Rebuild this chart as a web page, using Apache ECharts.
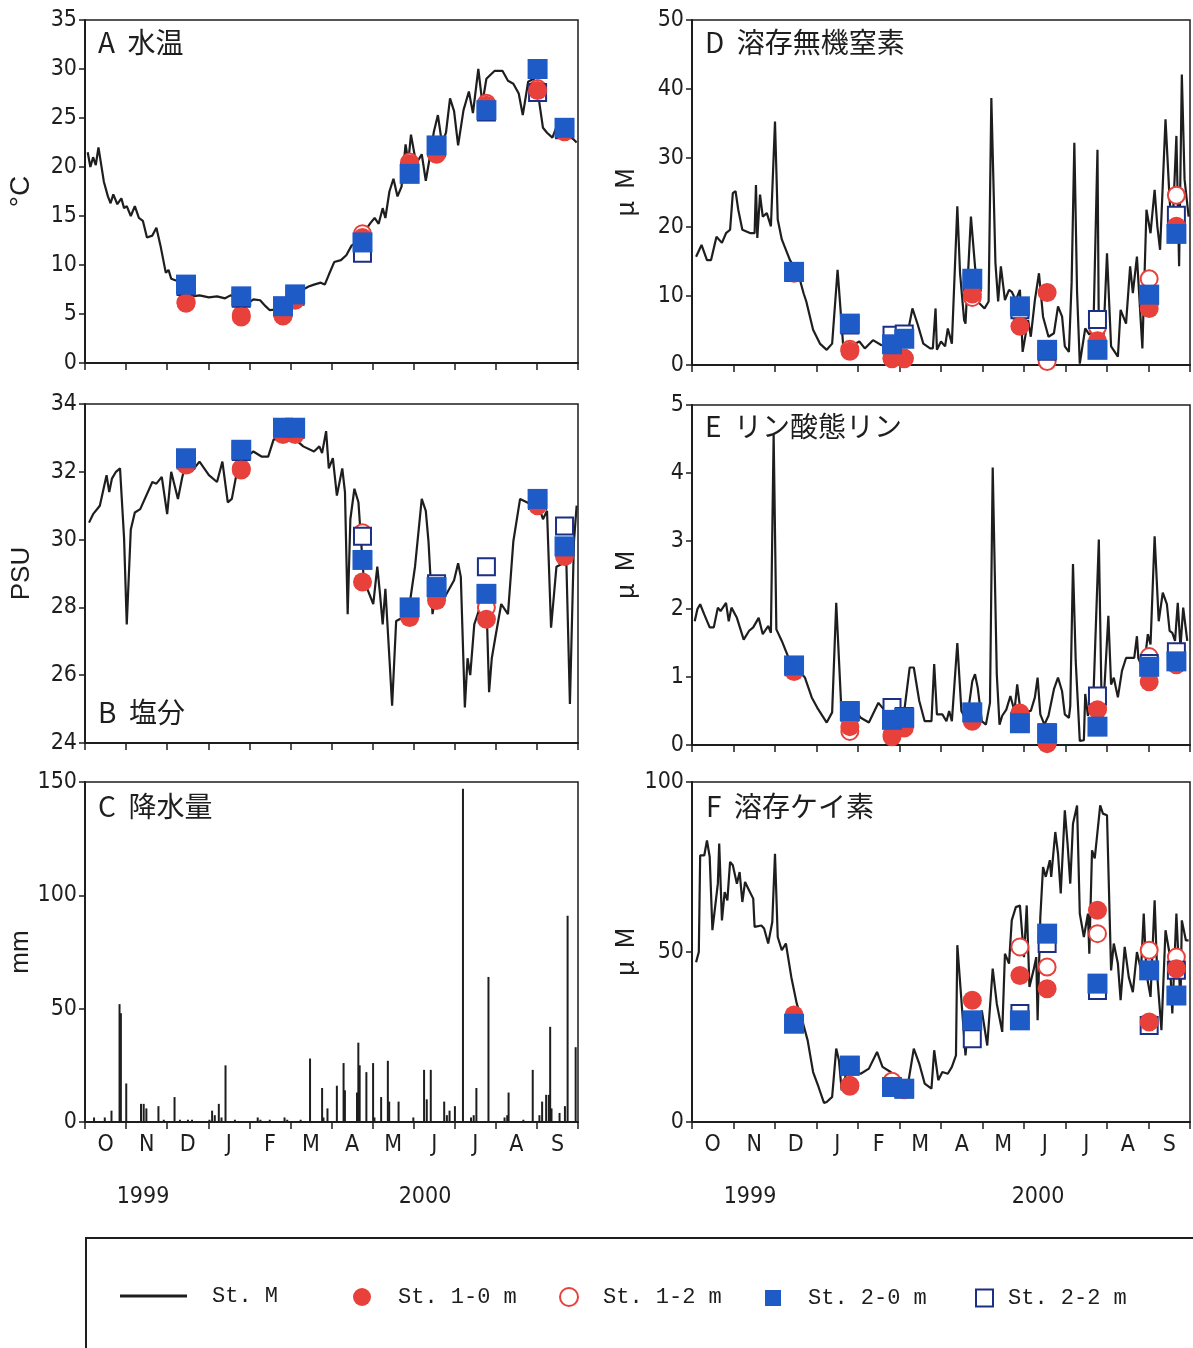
<!DOCTYPE html>
<html><head><meta charset="utf-8">
<script src="https://cdn.jsdelivr.net/npm/echarts/dist/echarts.min.js"></script>
<style>html,body{margin:0;padding:0;background:#fff}#c{width:1193px;height:1348px}</style>
</head><body><div id="c"></div>
<script>
// ---------- DATA ----------
// day offsets from 1999-10-01
const months = ['O','N','D','J','F','M','A','M','J','J','A','S'];
const years = ['1999','2000'];
const sampleDays = [75,116,147,156,206,241,261,298,336,356]; // 1999-12-15 ... 2000-09-21

// A water temperature, St. M
const tempLine = [[2,21.5],[4,20],[6,21],[8,20.2],[10,22],[14,18.5],[17,17],[19,16.3],[21,17.2],[24,16.2],[27,16.8],[29,15.8],[31,16],[34,15],[37,16],[40,14.8],[43,14.5],[46,12.8],[50,13],[53,13.8],[56,12],[60,9.2],[62,9.5],[64,8.6],[70,8.3],[75,7.8],[80,6.8],[85,6.9],[92,6.7],[98,6.8],[104,6.6],[108,6.9],[112,6.8],[115,6.3],[120,6.0],[125,6.5],[130,6.4],[134,5.8],[137,5.4],[145,5.5],[150,6.0],[155,7.2],[162,7.5],[166,7.8],[170,8],[175,8.2],[178,8],[181,9],[185,10.3],[190,10.5],[194,11],[198,12],[202,12.3],[204,12],[207,13.3],[212,14.3],[215,14.8],[218,14.2],[221,15.8],[223,14.8],[226,17.5],[229,18.8],[232,17],[235,18],[238,22.3],[240,20.5],[242,23.3],[245,21],[247,20.6],[250,21.3],[253,18.6],[256,21],[259,23.6],[262,25.3],[265,22.4],[268,23.5],[271,27],[274,25.7],[277,22.2],[281,25.8],[285,27.7],[288,25.5],[292,30],[295,26.5],[298,29],[304,29.8],[310,29.8],[314,28.8],[318,28.5],[322,27.5],[325,25.3],[329,28.7],[333,29],[336,27.8],[340,24],[343,23.5],[347,23],[352,24.8],[356,24],[360,23.2],[365,22.5]];
const temp10 = [6.1,4.7,4.8,6.4,12.8,20.3,21.3,26.3,27.8,23.6];
const temp12 = [6.2,4.9,5.0,6.5,13.2,20.5,21.5,26.5,28.0,23.8];
const temp20 = [8.0,6.8,5.8,7.0,12.3,19.3,22.2,25.8,30.0,24.0];
const temp22 = [7.8,6.6,5.6,6.8,11.2,19.5,22.0,25.6,27.6,23.8];

// B salinity
const salLine = [[3,30.5],[6,30.75],[11,31.0],[16,31.9],[18,31.4],[20,31.8],[23,32.0],[26,32.1],[29,30.05],[31,27.5],[34,30.3],[37,30.8],[41,30.9],[50,31.7],[53,31.65],[57,31.85],[61,30.75],[64,32.0],[69,31.2],[72,31.8],[75,32.3],[79,32.0],[85,32.3],[92,31.9],[98,31.7],[102,32.3],[106,31.1],[109,31.2],[114,32.25],[119,32.4],[125,32.6],[131,32.45],[136,32.45],[140,32.95],[148,33.0],[155,33.0],[162,32.75],[170,32.6],[174,32.75],[176,32.55],[179,33.2],[181,32.1],[184,32.4],[187,31.3],[191,32.1],[193,31.4],[195,27.8],[197,30.6],[200,31.5],[203,31.1],[207,28.8],[210,28.5],[214,28.1],[217,29.2],[219,28.4],[221,27.5],[223,28.55],[226,26.5],[228,25.1],[231,27.6],[236,27.7],[241,28.1],[245,29.2],[250,31.2],[253,30.85],[255,29.95],[258,27.8],[261,28.5],[267,28.3],[274,28.8],[277,29.3],[279,28.9],[282,25.05],[284,26.5],[286,26.0],[289,27.5],[294,28.1],[298,28.2],[300,25.5],[302,26.5],[305,27.2],[309,28.1],[314,27.8],[318,29.95],[323,31.2],[328,31.1],[333,31.0],[336,31.1],[340,30.6],[343,30.85],[346,27.4],[350,29.2],[355,29.3],[357,29.9],[360,25.15],[363,29.95],[365,31.0]];
const sal10 = [32.2,32.05,33.1,33.1,28.75,27.7,28.2,27.65,31.0,29.5];
const sal12 = [32.25,32.1,33.15,33.15,30.2,27.75,28.3,28.0,31.05,29.6];
const sal20 = [32.4,32.65,33.3,33.3,29.4,28.0,28.6,28.4,31.2,29.8];
const sal22 = [32.35,32.6,33.25,33.25,30.1,28.0,28.7,29.2,31.15,30.4];

// C precipitation (mm/day)
const rain = [[6,2],[14,2],[19,5],[25,52],[26,48],[30,17],[41,8],[43,8],[45,6],[54,7],[58,1],[66,11],[70,1],[76,1],[79,1],[92,1],[94,5],[96,3],[99,8],[101,2],[104,25],[111,1],[128,2],[130,1],[137,1],[148,2],[150,1],[160,1],[167,28],[176,15],[177,2],[180,6],[187,16],[192,26],[193,14],[202,13],[203,35],[204,25],[209,22],[214,26],[215,2],[220,11],[225,27],[226,9],[233,9],[244,2],[252,23],[254,10],[257,23],[267,9],[269,3],[271,5],[275,7],[281,147],[287,2],[289,3],[291,15],[300,64],[312,2],[314,3],[315,13],[326,1],[333,23],[338,3],[340,9],[343,12],[345,12],[346,42],[347,6],[353,4],[357,7],[359,91],[365,33]];

// D DIN
const dinLine = [[3,15.7],[7,17.4],[11,15.2],[14,15.2],[18,18.6],[22,17.7],[25,19.1],[28,19.6],[30,24.9],[32,25.2],[34,22.5],[37,19.6],[43,19.1],[46,19.1],[47,26.1],[48,18.4],[50,24.7],[52,21.5],[55,22.0],[58,20.1],[61,35.3],[63,21.1],[66,18.2],[72,15.2],[78,13.3],[82,10.4],[84,9.2],[89,5.1],[94,3.1],[99,2.2],[103,3.1],[107,13.8],[111,3.1],[116,2.7],[123,3.4],[127,2.4],[133,3.6],[139,2.9],[144,2.7],[152,2.2],[158,4.1],[162,8.2],[166,5.8],[170,3.1],[175,2.4],[177,2.4],[179,8.2],[180,2.2],[183,3.4],[186,2.7],[188,5.3],[191,3.1],[195,23.0],[197,13.3],[200,6.5],[201,6.0],[205,21.5],[208,14.3],[211,9.0],[215,8.2],[218,9.2],[220,38.7],[223,14.8],[225,9.2],[227,14.3],[230,9.4],[233,10.9],[235,10.6],[238,9.4],[241,10.9],[243,1.9],[247,6.5],[249,4.1],[252,9.4],[255,13.3],[258,7.0],[262,4.1],[266,4.6],[269,8.5],[272,7.0],[274,2.7],[277,1.9],[279,11.9],[281,32.2],[283,10.6],[285,0.2],[289,5.3],[292,4.4],[295,5.1],[298,31.2],[299,4.6],[302,2.2],[305,16.2],[308,2.7],[313,1.2],[315,8.0],[319,6.0],[322,14.3],[324,10.4],[327,15.7],[331,2.4],[334,22.5],[337,19.1],[340,25.4],[342,20.1],[344,16.7],[348,35.6],[351,24.0],[353,19.1],[356,33.2],[358,14.3],[360,42.1],[362,26.9],[365,21.5]];
const din10 = [13.3,2.0,0.9,0.9,10.3,5.6,10.5,3.5,8.2,20.1];
const din12 = [13.4,2.3,1.0,1.0,9.8,7.5,0.5,5.5,12.5,24.6];
const din20 = [13.5,6.0,3.0,3.8,12.5,8.5,2.2,2.2,10.2,19.0];
const din22 = [13.4,5.8,4.3,4.5,12.0,8.0,2.0,6.6,10.0,21.7];

// E phosphate
const poLine = [[2,1.82],[4,2.0],[6,2.07],[9,1.92],[13,1.73],[16,1.73],[19,2.02],[21,1.97],[25,2.09],[27,1.82],[29,2.02],[33,1.87],[38,1.55],[42,1.68],[45,1.73],[49,1.87],[52,1.63],[56,1.75],[58,1.65],[60,4.57],[62,1.70],[66,1.53],[71,1.28],[77,1.14],[83,0.99],[88,0.70],[92,0.55],[99,0.33],[103,0.48],[106,2.09],[110,0.43],[116,0.33],[120,0.5],[124,0.4],[130,0.33],[137,0.62],[144,0.45],[152,0.35],[156,0.5],[160,1.14],[163,1.14],[167,0.65],[171,0.35],[176,0.35],[178,1.19],[180,0.45],[184,0.45],[187,0.35],[189,0.5],[191,0.35],[195,1.50],[198,0.5],[202,0.35],[206,0.94],[208,1.04],[210,0.84],[213,0.35],[216,0.30],[219,0.62],[221,4.08],[224,1.04],[226,0.30],[228,0.43],[231,0.52],[234,0.72],[237,0.5],[239,0.89],[242,0.40],[245,0.5],[249,0.5],[252,0.70],[254,0.99],[256,0.45],[259,0.30],[262,0.43],[266,0.82],[269,0.99],[272,0.79],[274,0.45],[277,0.40],[278,0.57],[280,2.66],[282,1.24],[285,0.06],[288,0.07],[289,0.75],[291,0.43],[295,0.70],[299,3.02],[301,0.65],[303,0.8],[306,1.90],[308,0.89],[310,0.99],[313,0.70],[316,1.09],[319,1.28],[323,1.28],[325,1.28],[327,1.6],[328,1.28],[332,1.09],[335,1.63],[337,1.48],[340,3.07],[343,1.82],[346,2.24],[349,2.07],[351,1.68],[353,1.65],[355,1.53],[357,2.09],[359,1.43],[361,2.02],[364,1.53]];
const po10 = [1.08,0.27,0.12,0.25,0.35,0.45,0.02,0.52,0.93,1.18];
const po12 = [1.1,0.2,0.15,0.28,0.37,0.47,0.03,0.55,1.3,1.35];
const po20 = [1.17,0.5,0.37,0.4,0.48,0.32,0.17,0.27,1.15,1.23];
const po22 = [1.15,0.48,0.55,0.42,0.47,0.35,0.18,0.72,1.2,1.37];

// F silicate
const siLine = [[3,47],[5,50],[6,78.4],[9,78.4],[11,82.8],[13,78],[15,56.4],[19,70.1],[20,81.9],[22,59.3],[24,67.6],[26,65.2],[27,71],[28,76.5],[30,75.5],[33,70.1],[35,73.5],[37,64.7],[39,70.6],[42,68.1],[45,65.7],[46,57.4],[51,57.8],[53,56.9],[56,52.5],[59,58.8],[61,78.9],[63,54.4],[66,50.5],[69,52.5],[73,42.6],[77,34.8],[81,29.9],[85,24],[89,14.7],[93,10.3],[97,5.6],[99,5.9],[103,7.4],[106,21.6],[108,18.1],[110,9.3],[114,15.2],[119,14.7],[124,14.2],[130,15.7],[136,20.6],[140,16.2],[146,14.7],[152,11.8],[158,9.3],[163,21.6],[167,17.2],[171,11.3],[176,9.8],[178,21.1],[181,12.3],[184,14.7],[188,14.2],[191,16.2],[194,19.6],[195,52.0],[198,35.8],[201,19.6],[203,28.9],[206,31.9],[210,27.9],[213,32.8],[217,22.5],[221,45.1],[224,34.8],[228,26.5],[230,49.5],[233,46.6],[235,59.3],[238,63.2],[241,63.7],[244,48.5],[246,63.7],[248,39.7],[251,44.6],[253,48.5],[254,29.9],[256,60.3],[258,75],[260,72.1],[263,77],[264,72.1],[267,85.3],[269,78.9],[271,67.2],[274,91.7],[276,81.9],[278,70.1],[280,87.7],[283,93.1],[285,61.3],[288,54.4],[291,61.3],[292,49.5],[294,79.9],[296,77.5],[300,93.1],[302,90.7],[305,90.2],[308,44.6],[310,52.5],[313,46.6],[315,35.8],[318,51.5],[321,42.6],[324,38.2],[327,50],[330,44.6],[332,61.3],[334,43.6],[337,36.8],[340,65.2],[342,42.6],[345,27],[348,56.4],[351,49.5],[353,31.9],[356,61.3],[359,34.8],[360,59.3],[363,53.4],[365,53.4]];
const si10 = [31.5,10.5,10.5,9.5,35.8,43.1,39.2,62.3,29.4,45.1];
const si12 = [31.0,10.8,12.0,9.6,28.0,51.5,45.6,55.4,50.5,48.5];
const si20 = [28.9,16.6,10.3,9.8,29.9,29.9,55.4,40.7,44.6,37.2];
const si22 = [29.0,16.4,10.4,9.7,24.5,31.9,52.5,38.7,28.4,44.6];

// ---------- BUILD ----------
const START = new Date(1999, 9, 1).getTime();
const END = new Date(2000, 9, 1).getTime();
const DAY = 86400000;
const toT = d => START + d * DAY;
const lineData = arr => arr.map(p => [toT(p[0]), p[1]]);
const sampleData = vals => vals.map((v, i) => [toT(sampleDays[i]), v]);

const NARROW = '"Liberation Sans Narrow","DejaVu Sans Condensed","Roboto Condensed","Liberation Sans",sans-serif';
const CJK = '"Liberation Sans Narrow","Noto Sans CJK JP",sans-serif';
const INK = '#1e1e1e';
const RED = '#e8413c';
const BLUE = '#1f5bc6';
const NAVY = '#1c2f86';

const panels = [
  {grid:{left:85, top:20, width:493, height:343}, min:0, max:35, interval:5, name:'°C', gap:50, title:'A  水温', tl:98, tt:28, xlab:false, line:tempLine, m:[temp10,temp12,temp20,temp22]},
  {grid:{left:85, top:404, width:493, height:339}, min:24, max:34, interval:2, name:'PSU', gap:50, title:'B  塩分', tl:98, tt:698, xlab:false, line:salLine, m:[sal10,sal12,sal20,sal22]},
  {grid:{left:85, top:782, width:493, height:340}, min:0, max:150, interval:50, name:'mm', gap:50, title:'C  降水量', tl:98, tt:792, xlab:true, bars:rain},
  {grid:{left:692, top:20, width:498, height:345}, min:0, max:50, interval:10, name:'μ  M', gap:55, title:'D  溶存無機窒素', tl:705, tt:28, xlab:false, line:dinLine, m:[din10,din12,din20,din22]},
  {grid:{left:692, top:405, width:498, height:340}, min:0, max:5, interval:1, name:'μ  M', gap:55, title:'E  リン酸態リン', tl:705, tt:412, xlab:false, line:poLine, m:[po10,po12,po20,po22]},
  {grid:{left:692, top:782, width:498, height:340}, min:0, max:100, interval:50, name:'μ  M', gap:55, title:'F  溶存ケイ素', tl:706, tt:792, xlab:true, line:siLine, m:[si10,si12,si20,si22]}
];

const grid = [], xAxis = [], yAxis = [], series = [], title = [];
panels.forEach((p, i) => {
  grid.push(Object.assign({show:true, borderColor:INK, borderWidth:1.5, backgroundColor:'transparent', containLabel:false}, p.grid));
  xAxis.push({type:'time', gridIndex:i, min:START, max:END, show:false});
  xAxis.push({type:'category', gridIndex:i, data:months, boundaryGap:true, position:'bottom',
    axisLine:{show:true, lineStyle:{color:INK, width:2}},
    axisTick:{show:true, interval:0, length:7, lineStyle:{color:INK, width:1.5}},
    axisLabel:{show:p.xlab, interval:0, fontSize:23, color:INK, fontFamily:NARROW, margin:12},
    splitLine:{show:false}});
  yAxis.push({type:'value', gridIndex:i, min:p.min, max:p.max, interval:p.interval,
    name:p.name, nameLocation:'middle', nameGap:p.gap,
    nameTextStyle:{fontSize:p.name==='°C'?28:26, color:INK, fontFamily:p.name.indexOf('μ')===0 ? '"Noto Sans CJK JP",sans-serif' : '"Liberation Sans",sans-serif'},
    axisLine:{show:true, lineStyle:{color:INK, width:2}},
    axisTick:{show:true, length:6, lineStyle:{color:INK, width:1.5}},
    axisLabel:{fontSize:23, color:INK, fontFamily:NARROW, margin:8},
    splitLine:{show:false}});
  title.push({text:p.title, left:p.tl, top:p.tt, padding:0,
    textStyle:{fontSize:28, fontWeight:'normal', color:INK, fontFamily:CJK}});
  if (p.bars) {
    series.push({type:'bar', name:'降水量', xAxisIndex:2*i, yAxisIndex:i, data:lineData(p.bars),
      barWidth:2, itemStyle:{color:INK}, silent:true});
  }
  if (p.line) {
    series.push({type:'line', name:'St. M', xAxisIndex:2*i, yAxisIndex:i, data:lineData(p.line),
      symbol:'none', lineStyle:{color:INK, width:2.2}, itemStyle:{color:INK}, silent:true, z:2});
  }
  if (p.m) {
    series.push({type:'scatter', name:'St. 1-2 m', xAxisIndex:2*i, yAxisIndex:i, data:sampleData(p.m[1]),
      symbol:'emptyCircle', symbolSize:17, itemStyle:{color:RED, borderColor:RED, borderWidth:2.2, opacity:1}, z:3});
    series.push({type:'scatter', name:'St. 2-2 m', xAxisIndex:2*i, yAxisIndex:i, data:sampleData(p.m[3]),
      symbol:'emptyRect', symbolSize:17, itemStyle:{color:NAVY, borderColor:NAVY, borderWidth:2, opacity:1}, z:3});
    series.push({type:'scatter', name:'St. 1-0 m', xAxisIndex:2*i, yAxisIndex:i, data:sampleData(p.m[0]),
      symbol:'circle', symbolSize:19, itemStyle:{color:RED, opacity:1}, z:3});
    series.push({type:'scatter', name:'St. 2-0 m', xAxisIndex:2*i, yAxisIndex:i, data:sampleData(p.m[2]),
      symbol:'rect', symbolSize:20, itemStyle:{color:BLUE, opacity:1}, z:3});
  }
});

const LEGTXT = {fontSize:22, color:INK, fontFamily:'"Liberation Mono","DejaVu Sans Mono",monospace'};
const legend = [
  {data:[{name:'St. M', icon:'rect'}], left:120, top:1285, itemWidth:67, itemHeight:3, padding:0, selectedMode:false, textStyle:Object.assign({padding:[0,0,0,20]}, LEGTXT)},
  {data:['St. 1-0 m'], left:353, top:1286, itemWidth:18, itemHeight:18, padding:0, selectedMode:false, textStyle:Object.assign({padding:[0,0,0,22]}, LEGTXT)},
  {data:[{name:'St. 1-2 m', itemStyle:{borderWidth:2}}], left:559, top:1286, itemWidth:18, itemHeight:18, padding:0, selectedMode:false, textStyle:Object.assign({padding:[0,0,0,20]}, LEGTXT)},
  {data:['St. 2-0 m'], left:765, top:1287, itemWidth:16, itemHeight:16, padding:0, selectedMode:false, textStyle:Object.assign({padding:[0,0,0,22]}, LEGTXT)},
  {data:[{name:'St. 2-2 m', itemStyle:{borderWidth:2}}], left:975, top:1287, itemWidth:17, itemHeight:17, padding:0, selectedMode:false, textStyle:Object.assign({padding:[0,0,0,10]}, LEGTXT)}
];

const graphic = [
  {type:'rect', shape:{x:86, y:1238, width:1130, height:140}, style:{fill:'none', stroke:INK, lineWidth:2}, silent:true},
  {type:'text', x:143, y:1197, style:{text:years[0], fontSize:23, fontFamily:NARROW, fill:INK, align:'center', verticalAlign:'middle'}},
  {type:'text', x:425, y:1197, style:{text:years[1], fontSize:23, fontFamily:NARROW, fill:INK, align:'center', verticalAlign:'middle'}},
  {type:'text', x:750, y:1197, style:{text:years[0], fontSize:23, fontFamily:NARROW, fill:INK, align:'center', verticalAlign:'middle'}},
  {type:'text', x:1038, y:1197, style:{text:years[1], fontSize:23, fontFamily:NARROW, fill:INK, align:'center', verticalAlign:'middle'}}
];

const chart = echarts.init(document.getElementById('c'), null, {renderer:'canvas'});
chart.setOption({backgroundColor:'#fff', animation:false, title, grid, xAxis, yAxis, series, legend, graphic});
</script></body></html>
